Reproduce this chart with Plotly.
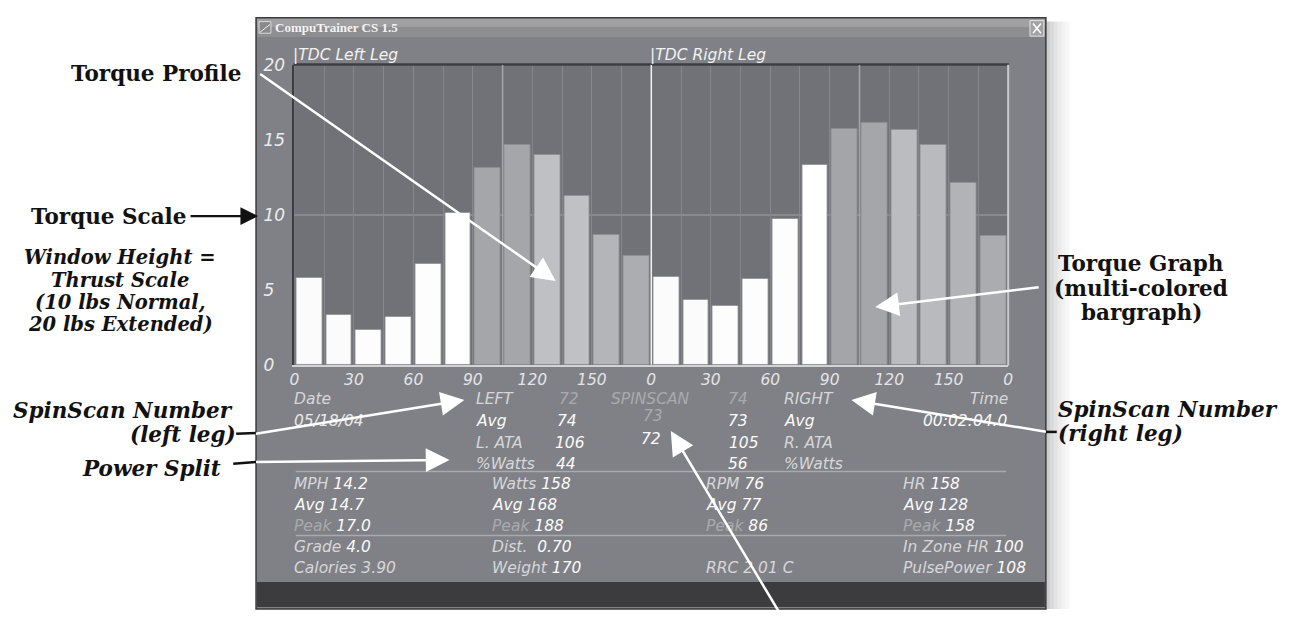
import plotly.graph_objects as go

W, H = 1289, 619

# ---------------- data ----------------
left_angle = [7.5, 22.5, 37.5, 52.5, 67.5, 82.5, 97.5, 112.5, 127.5, 142.5, 157.5, 172.5]
right_angle = [187.5, 202.5, 217.5, 232.5, 247.5, 262.5, 277.5, 292.5, 307.5, 322.5, 337.5, 352.5]
left_torque = [5.8, 3.35, 2.3, 3.2, 6.75, 10.15, 13.15, 14.7, 14.0, 11.25, 8.65, 7.25]
right_torque = [5.85, 4.3, 3.9, 5.75, 9.7, 13.35, 15.75, 16.15, 15.65, 14.7, 12.1, 8.6]
left_colors = ["#fbfbfb", "#fbfbfb", "#fdfdfd", "#fdfdfd", "#fdfdfd", "#ffffff",
               "#a5a6aa", "#a5a6aa", "#bfc0c4", "#c0c1c5", "#b4b5b9", "#acadb1"]
right_colors = ["#fbfbfb", "#fbfbfb", "#fdfdfd", "#fdfdfd", "#fdfdfd", "#ffffff",
                "#a4a5a9", "#a5a6aa", "#bbbcc0", "#b9babe", "#b2b3b7", "#abacb0"]
x_tick_vals = [0, 30, 60, 90, 120, 150, 180, 210, 240, 270, 300, 330, 360]
x_tick_text = ["0", "30", "60", "90", "120", "150", "0", "30", "60", "90", "120", "150", "0"]
y_tick_vals = [0, 5, 10, 15, 20]
y_tick_text = ["0\u2007", "5\u2007", "10", "15", "20"]

window_title = "CompuTrainer CS 1.5"
leg_titles = ["|TDC Left Leg", "|TDC Right Leg"]
session_date = "05/18/04"
session_time = "00:02:04.0"
left_spinscan, left_avg, left_ata, left_watts_pct = "72", "74", "106", "44"
right_spinscan, right_avg, right_ata, right_watts_pct = "74", "73", "105", "56"
total_spinscan, total_spinscan_avg = "73", "72"
mph = ["14.2", "14.7", "17.0"]
watts = ["158", "168", "188"]
rpm = ["76", "77", "86"]
hr = ["158", "128", "158"]
grade, dist, calories, weight = "4.0", "0.70", "3.90", "170"
rrc, in_zone_hr, pulse_power = "2.01 C", "100", "108"

# ---------------- helpers ----------------
shapes, annotations = [], []
SANS = "DejaVu Sans, Liberation Sans, sans-serif"
SERIF = "DejaVu Serif, Liberation Serif, serif"
C_LABEL, C_VAL, C_DIM = "#d7d7d9", "#fbfbfb", "#a9aaad"
INK = "#111111"


def px(x):
    return x / W


def py(y):
    return 1 - y / H


def rect(x0, y0, x1, y1, fill, line=None, lw=0, layer="below", opacity=1):
    shapes.append(dict(type="rect", xref="paper", yref="paper", x0=px(x0), x1=px(x1),
                       y0=py(y1), y1=py(y0), fillcolor=fill, opacity=opacity,
                       line=dict(color=line or fill, width=lw), layer=layer))


def seg(x0, y0, x1, y1, color, width, layer="above"):
    shapes.append(dict(type="line", xref="paper", yref="paper", x0=px(x0), x1=px(x1),
                       y0=py(y0), y1=py(y1), line=dict(color=color, width=width), layer=layer))


def label(x, y, text, color=C_LABEL, size=15.5, anchor="left", family=SANS,
          style="italic", weight="normal"):
    # compensate the small inner padding of annotations
    shift = {"left": -4, "right": 4, "center": 0}[anchor]
    annotations.append(dict(x=px(x + shift), y=py(y), xref="paper", yref="paper", text=text,
                            showarrow=False, xanchor=anchor, yanchor="middle",
                            font=dict(family=family, size=size, color=color,
                                      style=style, weight=weight)))


def arrow(tx, ty, hx, hy, color, width=2.5, head=2, size=1.9):
    annotations.append(dict(x=px(hx), y=py(hy), xref="paper", yref="paper",
                            ax=tx - hx, ay=ty - hy, axref="pixel", ayref="pixel",
                            text="", showarrow=True, arrowhead=head, arrowsize=size,
                            arrowwidth=width, arrowcolor=color, standoff=0))


def sp(text, color):
    return f"<span style='color:{color}'>{text}</span>"


# ---------------- window chrome ----------------
for i, op in enumerate([0.20, 0.15, 0.11, 0.08, 0.05, 0.03]):
    rect(1049 + i * 4, 12, 1053 + i * 4, 619, "#000000", opacity=op)
rect(253, 8, 1049, 619, "#808186", line="#3a3a3c", lw=1.5)
rect(254, 9, 1048, 18, "#a0a0a2")
rect(254, 18, 1048, 28, "#8e8e90")
rect(256, 12, 268, 24, "#8a8a8c", line="#d8d8d8", lw=1)
seg(257, 23, 267, 15, "#f0f0f0", 1, layer="below")
label(274, 18.5, window_title, color="#f4f4f4", size=13, family="Liberation Serif, serif",
      style="normal", weight="bold")
rect(1033, 11, 1047, 27, "#a2a2a4", line="#e4e4e4", lw=1)
seg(1036, 14, 1044, 24, "#ffffff", 1.5)
seg(1044, 14, 1036, 24, "#ffffff", 1.5)
rect(291.7, 56.7, 1011, 366.7, "#717277")
rect(254, 591, 1048, 617, "#3c3c3e")

# plot frame accents
seg(290.7, 56.4, 1012, 56.4, "#3e3e42", 2.5)
seg(1011, 56.7, 1011, 367.7, "#c9c9cb", 2)

# ---------------- bars ----------------
fig = go.Figure()
fig.add_trace(go.Bar(x=left_angle, y=left_torque, width=13,
                     marker=dict(color=left_colors, line=dict(color="#8e8f93", width=0.8)),
                     hoverinfo="skip", showlegend=False))
fig.add_trace(go.Bar(x=right_angle, y=right_torque, width=13,
                     marker=dict(color=right_colors, line=dict(color="#8e8f93", width=0.8)),
                     hoverinfo="skip", showlegend=False))

# TDC and mid-stroke markers
shapes.append(dict(type="line", xref="x", yref="y", x0=180, x1=180, y0=0, y1=20,
                   line=dict(color="#f2f2f2", width=1.5), layer="above"))
for a in (105, 285):
    shapes.append(dict(type="line", xref="x", yref="y", x0=a, x1=a, y0=0, y1=20,
                       line=dict(color="#a4a5a9", width=1.5), layer="above"))

# ---------------- texts inside window ----------------
label(292, 46, leg_titles[0], color="#f2f2f2", size=15.5)
label(652, 46, leg_titles[1], color="#f2f2f2", size=15.5)

r1, r2, r3, r4 = 402, 424.5, 447, 469
label(293, r1, "Date")
label(293, r2, session_date, color="#e9e9e9")
label(477, r1, "LEFT")
label(560, r1, left_spinscan, color=C_DIM)
label(613, r1, "SPINSCAN", color=C_DIM)
label(731, r1, right_spinscan, color=C_DIM)
label(787, r1, "RIGHT")
label(1009, r1, "Time", anchor="right")
label(477, r2, "Avg", color=C_VAL)
label(558, r2, left_avg, color=C_VAL)
label(653, 420, total_spinscan, color=C_DIM, anchor="center")
label(731, r2, right_avg, color=C_VAL)
label(787, r2, "Avg", color=C_VAL)
label(1009, r2, session_time, color=C_VAL, anchor="right")
label(477, r3, "L. ATA")
label(556, r3, left_ata, color=C_VAL)
label(651, 443, total_spinscan_avg, color=C_VAL, anchor="center")
label(732, r3, right_ata, color=C_VAL)
label(787, r3, "R. ATA")
label(477, r4, "%Watts")
label(557, r4, left_watts_pct, color=C_VAL)
label(731, r4, right_watts_pct, color=C_VAL)
label(787, r4, "%Watts")

seg(293, 477, 1009, 477, "#a9aaae", 1.5)
seg(293, 543, 1009, 543, "#a9aaae", 1.5)

rows = [490, 512, 533.5, 555, 577]
NB = "\u00a0"
col1 = [sp("MPH", C_LABEL) + " " + sp(mph[0], C_VAL),
        sp("Avg", C_VAL) + " " + sp(mph[1], C_VAL),
        sp("Peak", C_DIM) + " " + sp(mph[2], C_VAL),
        sp("Grade", C_LABEL) + " " + sp(grade, C_VAL),
        sp("Calories", C_LABEL) + " " + sp(calories, C_LABEL)]
col2 = [sp("Watts", C_LABEL) + " " + sp(watts[0], C_VAL),
        sp("Avg", C_VAL) + " " + sp(watts[1], C_VAL),
        sp("Peak", C_DIM) + " " + sp(watts[2], C_VAL),
        sp("Dist.", C_LABEL) + NB + NB + sp(dist, C_VAL),
        sp("Weight", C_LABEL) + " " + sp(weight, C_VAL)]
col3 = [sp("RPM", C_LABEL) + " " + sp(rpm[0], C_VAL),
        sp("Avg", C_VAL) + " " + sp(rpm[1], C_VAL),
        sp("Peak", C_DIM) + " " + sp(rpm[2], C_VAL),
        "",
        sp("RRC", C_LABEL) + " " + sp(rrc, C_LABEL)]
col4 = [sp("HR", C_LABEL) + " " + sp(hr[0], C_VAL),
        sp("Avg", C_VAL) + " " + sp(hr[1], C_VAL),
        sp("Peak", C_DIM) + " " + sp(hr[2], C_VAL),
        sp("In Zone HR", C_LABEL) + " " + sp(in_zone_hr, C_VAL),
        sp("PulsePower", C_LABEL) + " " + sp(pulse_power, C_VAL)]
for cx, col in zip([293, 493, 708, 907], [col1, col2, col3, col4]):
    for ry, txt in zip(rows, col):
        if txt:
            label(cx, ry, txt)

# ---------------- callouts outside the window ----------------
BIG = 21.5
label(236, 66, "Torque Profile", color=INK, size=BIG, anchor="right",
      family=SERIF, style="normal", weight="bold")
label(180, 213, "Torque Scale", color=INK, size=BIG, anchor="right",
      family=SERIF, style="normal", weight="bold")
for yy, t in zip([256, 279.5, 302.5, 325.5],
                 ["Window Height =", "Thrust Scale", "(10 lbs Normal,", "20 lbs Extended)"]):
    label(116, yy, t, color=INK, size=19.5, anchor="center", family=SERIF,
          style="italic", weight="bold")
label(228, 414, "SpinScan Number", color=INK, size=BIG, anchor="right",
      family=SERIF, style="italic", weight="bold")
label(231, 439, "(left leg)", color=INK, size=BIG, anchor="right",
      family=SERIF, style="italic", weight="bold")
label(216, 474, "Power Split", color=INK, size=BIG, anchor="right",
      family=SERIF, style="italic", weight="bold")
for yy, t in zip([262, 288, 313], ["Torque Graph", "(multi-colored", "bargraph)"]):
    label(1145, yy, t, color=INK, size=BIG, anchor="center", family=SERIF,
          style="normal", weight="bold")
label(1063, 412.5, "SpinScan Number", color=INK, size=BIG, anchor="left",
      family=SERIF, style="italic", weight="bold")
label(1063, 438, "(right leg)", color=INK, size=BIG, anchor="left",
      family=SERIF, style="italic", weight="bold")

# black stubs outside the window
seg(233, 438, 253, 437, INK, 2.5)
seg(230, 469, 253, 467, INK, 2.5)
seg(1049, 436, 1060, 436, INK, 2.5)

# arrows
arrow(186, 213, 255, 213, INK, width=2.2, size=1.6)
arrow(258, 72, 555, 280, "#ffffff")
arrow(253, 437, 463, 403, "#ffffff")
arrow(253, 467, 448, 465, "#ffffff")
arrow(1049, 435, 853, 403, "#ffffff")
arrow(1042, 287, 877, 307, "#ffffff")
arrow(781, 619, 671, 435, "#ffffff")

# ---------------- layout ----------------
fig.update_layout(
    width=W, height=H, autosize=False,
    margin=dict(l=0, r=0, t=0, b=0),
    paper_bgcolor="#ffffff", plot_bgcolor="rgba(0,0,0,0)",
    bargap=0, barmode="overlay",
    shapes=shapes, annotations=annotations,
    xaxis=dict(domain=[px(291.7), px(1011)], range=[0, 360], tickvals=x_tick_vals,
               ticktext=x_tick_text, showgrid=True, gridcolor="#86878b", gridwidth=1,
               minor=dict(dtick=15, tick0=0, showgrid=True, gridcolor="#86878b", gridwidth=1),
               showline=True, linecolor="#d3d3d5", linewidth=2, zeroline=False, ticks="",
               tickfont=dict(family=SANS, size=15.5, color="#e4e4e6", style="italic"),
               fixedrange=True),
    yaxis=dict(domain=[py(366.7), py(56.7)], range=[0, 20], tickvals=y_tick_vals,
               ticktext=y_tick_text, showgrid=False,
               minor=dict(tickvals=[10], showgrid=True, gridcolor="#898a8e", gridwidth=1.5),
               showline=True, linecolor="#3c3c40", linewidth=2, zeroline=False, ticks="",
               ticklabelstandoff=4,
               tickfont=dict(family=SANS, size=17, color="#ececee", style="italic"),
               fixedrange=True),
)

fig.write_html("out.html", config={"displayModeBar": False},
               post_script="document.body.style.margin='0';document.body.style.overflow='hidden';")
